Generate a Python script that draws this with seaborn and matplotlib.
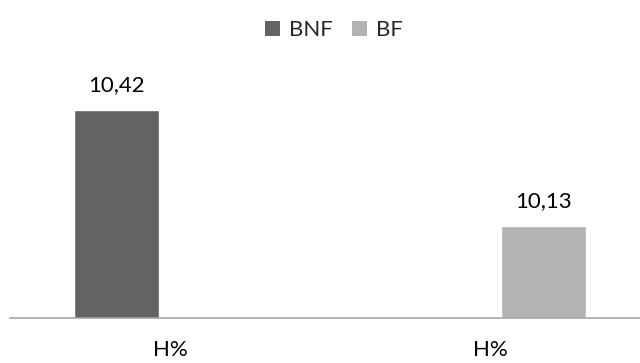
import numpy as np
import pandas as pd
import matplotlib
matplotlib.use("Agg")
import matplotlib.pyplot as plt
from matplotlib.patches import Patch
import seaborn as sns

# Data
groups = ["g1", "g2"]
tick_labels = ["H%", "H%"]
series = ["BNF", "BF"]
bnf_values = [10.42, np.nan]
bf_values = [np.nan, 10.13]
colors = {"BNF": "#636363", "BF": "#b3b3b3"}

df = pd.DataFrame({
    "group": groups * 2,
    "series": ["BNF"] * 2 + ["BF"] * 2,
    "value": bnf_values + bf_values,
})

sns.set_theme(style="white")
plt.rcParams["font.family"] = ["Lato", "DejaVu Sans"]

fig = plt.figure(figsize=(6.4, 3.63), dpi=100)
ax = fig.add_axes([10 / 640, 1 - 318 / 363, 640 / 640, (318 - 78) / 363])

sns.barplot(data=df, x="group", y="value", hue="series", hue_order=series,
            order=groups, palette=colors, width=0.666, gap=0.2,
            saturation=1, legend=False, ax=ax, errorbar=None)

ymin, ymax = 9.9, 10.5
ax.set_ylim(ymin, ymax)
ax.set_xlim(-0.5, 1.5)

# value labels above the bars
for container in ax.containers:
    for bar in container:
        v = bar.get_y() + bar.get_height()
        if np.isnan(v):
            continue
        ax.annotate(f"{v:.2f}".replace(".", ","),
                    (bar.get_x() + bar.get_width() / 2, v),
                    xytext=(0, 18), textcoords="offset points",
                    ha="center", va="center", fontsize=16, color="#000000",
                    annotation_clip=False)

for s in ["top", "right", "left"]:
    ax.spines[s].set_visible(False)
ax.spines["bottom"].set_color("#a6a6a6")
ax.spines["bottom"].set_linewidth(1.2)
ax.set_yticks([])
ax.set_xticks(range(len(groups)))
ax.set_xticklabels(tick_labels, fontsize=16, color="#000000")
ax.tick_params(axis="x", length=0, pad=16)
ax.set_xlabel("")
ax.set_ylabel("")

handles = [Patch(facecolor=colors[s], edgecolor="none", label=s) for s in series]
fig.legend(handles=handles, loc="center", bbox_to_anchor=(334 / 640, 1 - 30 / 363),
           ncol=2, frameon=False, fontsize=16, handlelength=0.65, handleheight=0.65,
           handletextpad=0.4, columnspacing=0.9)

fig.savefig("out.png", dpi=100)
